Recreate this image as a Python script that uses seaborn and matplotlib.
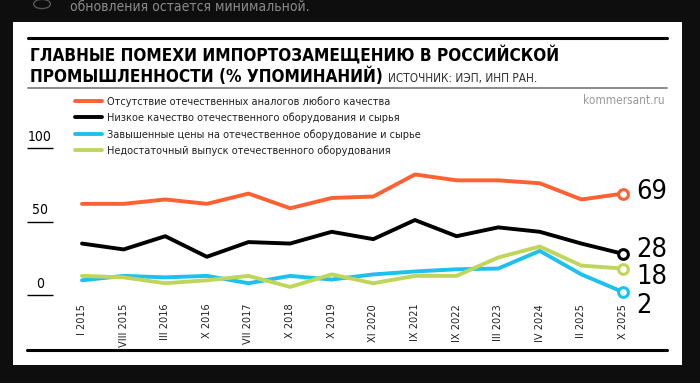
import numpy as np
import pandas as pd
import matplotlib
matplotlib.use('Agg')
import matplotlib.pyplot as plt
import seaborn as sns
from matplotlib.lines import Line2D
from matplotlib.patches import Rectangle, Circle

# data (% of mentions)
periods = ['I 2015', 'VIII 2015', 'III 2016', 'X 2016', 'VII 2017', 'X 2018', 'X 2019',
           'XI 2020', 'IX 2021', 'IX 2022', 'III 2023', 'IV 2024', 'II 2025', 'X 2025']
no_analogs = [62, 62, 65, 62, 69, 59, 66, 67, 82, 78, 78, 76, 65, 69]
low_quality = [35, 31, 40, 26, 36, 35, 43, 38, 51, 40, 46, 43, 35, 28]
high_prices = [10, 13, 12, 13, 8, 13, 10.5, 14, 16, 17.5, 18, 30, 14, 2]
low_output = [13, 12, 8, 10, 13, 5.5, 14, 8, 13, 13, 25.5, 33, 20, 18]

series_names = ['Отсутствие отечественных аналогов любого качества',
                'Низкое качество отечественного оборудования и сырья',
                'Завышенные цены на отечественное оборудование и сырье',
                'Недостаточный выпуск отечественного оборудования']
series_colors = ['#ff6133', '#000000', '#1ec0f0', '#bfd65a']
y_ticks = [0, 50, 100]

title_1 = 'ГЛАВНЫЕ ПОМЕХИ ИМПОРТОЗАМЕЩЕНИЮ В РОССИЙСКОЙ'
title_2 = 'ПРОМЫШЛЕННОСТИ (% УПОМИНАНИЙ)'
source = 'ИСТОЧНИК: ИЭП, ИНП РАН.'

values = [no_analogs, low_quality, high_prices, low_output]
df = pd.concat([pd.DataFrame({'idx': np.arange(len(periods)), 'value': v, 'series': n})
                for n, v in zip(series_names, values)], ignore_index=True)

sns.set_style('white')
plt.rcParams['font.family'] = ['DejaVu Sans']
plt.rcParams['font.stretch'] = 'condensed'  # picks DejaVuSansCondensed

W, H = 700, 383
fig = plt.figure(figsize=(7, 3.83), dpi=100)
fig.patch.set_facecolor('#0e0e0e')

def fx(px):
    return px / W

def fy(py):
    return (H - py) / H

# white card
fig.add_artist(Rectangle((fx(13), fy(365)), fx(682) - fx(13), fy(22) - fy(365),
                         transform=fig.transFigure, facecolor='white', edgecolor='none', zorder=0))
# text of the page above, partly cut off
fig.text(fx(70), fy(7), 'обновления остается минимальной.', color='#8a8a8a', fontsize=10,
         va='center', ha='left')
fig.add_artist(Circle((fx(42), fy(4)), 0.012, transform=fig.transFigure, fill=False,
                      edgecolor='#555555', lw=1))

# rules
fig.add_artist(Line2D([fx(28), fx(667)], [fy(38), fy(38)], color='black', lw=2.2))
fig.add_artist(Line2D([fx(28), fx(667)], [fy(88), fy(88)], color='#777777', lw=1.2))
fig.add_artist(Line2D([fx(27), fx(667)], [fy(350), fy(350)], color='black', lw=2.2))

fig.text(fx(30), fy(61), title_1, fontweight='bold', fontsize=12.3,
         va='baseline', ha='left', color='black')
fig.text(fx(30), fy(82), title_2, fontweight='bold', fontsize=12.3,
         va='baseline', ha='left', color='black')
fig.text(fx(388), fy(82), source, fontsize=8.5, va='baseline', ha='left', color='#333333')
fig.text(fx(665), fy(101), 'kommersant.ru', fontsize=8.5, va='center', ha='right', color='#999999')

step = (623 - 82) / 13
ax = fig.add_axes([fx(27), fy(301), fx(667) - fx(27), fy(90) - fy(301)])
ax.set_facecolor('none')
sns.lineplot(data=df, x='idx', y='value', hue='series', hue_order=series_names,
             palette=dict(zip(series_names, series_colors)), linewidth=2.8, ax=ax)
ax.set_xlim((27 - 82) / step, (667 - 82) / step)
ax.set_ylim((295 - 301) / 1.47, (295 - 90) / 1.47)
for sp in ax.spines.values():
    sp.set_visible(False)
ax.set_xlabel('')
ax.set_ylabel('')

# end markers and labels (offsets in order: orange, black, blue, green)
label_offsets = [-5, -3, -21, -15]
last = len(periods) - 1
for v, c, off in zip(values, series_colors, label_offsets):
    ax.plot([last], [v[-1]], marker='o', ms=7, mfc='white', mec=c, mew=2.2, zorder=5)
    ax.annotate(f'{v[-1]:g}', xy=(last, v[-1]), xytext=(13, off), textcoords='offset pixels',
                fontsize=19.5, va='baseline', ha='left', color='black')

# x labels with separators
ax.set_xticks(range(len(periods)))
ax.set_xticklabels(periods, rotation=90, fontsize=7.8, color='#222222')
ax.set_xticks(np.arange(len(periods) - 1) + 0.5, minor=True)
ax.tick_params(axis='x', which='major', length=0, pad=2)
ax.tick_params(axis='x', which='minor', length=29, width=0.9, color='#666666', direction='out')

# y labels with short underlines
ax.set_yticks([])
x_l, x_r, x_c = (27 - 82) / step, (53 - 82) / step, (40 - 82) / step
ax.hlines(y_ticks, x_l, x_r, color='black', lw=1, clip_on=False)
for t in y_ticks:
    ax.annotate(str(t), xy=(x_c, t), xytext=(0, 4), textcoords='offset pixels',
                fontsize=10, ha='center', va='bottom', color='black', annotation_clip=False)

sns.move_legend(ax, 'upper left', bbox_to_anchor=(fx(75), fy(96)), bbox_transform=fig.transFigure,
                frameon=False, title=None, fontsize=7.8, borderpad=0, borderaxespad=0,
                handlelength=2.5, handletextpad=0.45, labelspacing=0.55)
for t in ax.get_legend().get_texts():
    t.set_color('#222222')

fig.savefig('out.png', dpi=100, facecolor=fig.get_facecolor())
